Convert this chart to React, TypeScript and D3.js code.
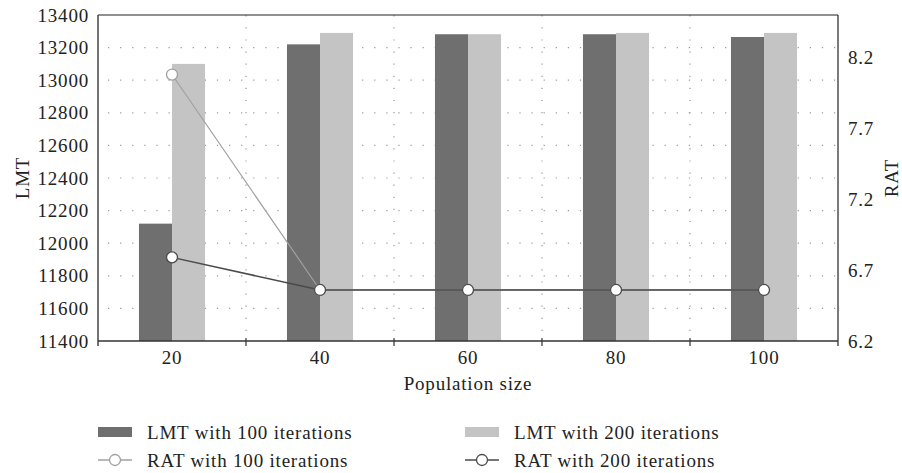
import React, { useEffect, useRef } from "react";
import * as d3 from "d3";

const categories = ["20", "40", "60", "80", "100"];
const lmt100 = [12120, 13220, 13282, 13282, 13265];
const lmt200 = [13100, 13290, 13282, 13290, 13290];
const rat100 = [8.08, 6.56, 6.56, 6.56, 6.56];
const rat200 = [6.79, 6.56, 6.56, 6.56, 6.56];
const leftTicks = [11400, 11600, 11800, 12000, 12200, 12400, 12600, 12800, 13000, 13200, 13400];
const rightTicks = [6.2, 6.7, 7.2, 7.7, 8.2];

const W = 902, H = 473;
const M = { left: 98, right: 838, top: 15, bottom: 341 };
const FONT = '"Liberation Serif"';
const DARK = "#6f6f6f", LIGHT = "#c4c4c4";

export default function App() {
  const ref = useRef<SVGSVGElement | null>(null);
  useEffect(() => {
    const svg = d3.select(ref.current);
    svg.selectAll("*").remove();
    const x0 = d3.scaleBand<string>().domain(categories).range([M.left, M.right]).padding(0);
    const x1 = d3.scaleBand<string>().domain(["a", "b"]).range([0, x0.bandwidth()]).paddingInner(0).paddingOuter(1.24);
    const yL = d3.scaleLinear().domain([11400, 13400]).range([M.bottom, M.top]);
    const yR = d3.scaleLinear().domain([6.2, 8.5]).range([M.bottom, M.top]);
    const cx = (c: string) => (x0(c) as number) + x0.bandwidth() / 2;

    const g = svg.append("g");
    g.selectAll("line.hg").data(leftTicks.slice(1, -1)).join("line")
      .attr("x1", M.left).attr("x2", M.right)
      .attr("y1", (d) => yL(d)).attr("y2", (d) => yL(d))
      .attr("stroke", "#999").attr("stroke-width", 1.2)
      .attr("stroke-dasharray", "1.2,10.9").attr("stroke-dashoffset", -10);
    g.selectAll("line.vg").data(categories.slice(1)).join("line")
      .attr("x1", (d) => x0(d) as number).attr("x2", (d) => x0(d) as number)
      .attr("y1", M.bottom).attr("y2", M.top)
      .attr("stroke", "#999").attr("stroke-width", 1.2)
      .attr("stroke-dasharray", "1.2,10.9").attr("stroke-dashoffset", -10);

    const series = [
      { key: "a", vals: lmt100, color: DARK },
      { key: "b", vals: lmt200, color: LIGHT },
    ];
    series.forEach((s) => {
      g.selectAll(null).data(categories).join("rect")
        .attr("x", (c) => (x0(c) as number) + (x1(s.key) as number))
        .attr("width", x1.bandwidth())
        .attr("y", (c, i) => yL(s.vals[i]))
        .attr("height", (c, i) => M.bottom - yL(s.vals[i]))
        .attr("fill", s.color);
    });

    const lines = [
      { vals: rat100, color: "#a0a0a0", w: 1.2 },
      { vals: rat200, color: "#4a4a4a", w: 1.5 },
    ];
    lines.forEach((l) => {
      const line = d3.line<number>().x((d, i) => cx(categories[i])).y((d) => yR(d));
      g.append("path").attr("d", line(l.vals) as string).attr("fill", "none")
        .attr("stroke", l.color).attr("stroke-width", l.w);
    });
    lines.forEach((l) => {
      g.selectAll(null).data(l.vals).join("circle")
        .attr("cx", (d, i) => cx(categories[i])).attr("cy", (d) => yR(d))
        .attr("r", 5.5).attr("fill", "#fff").attr("stroke", l.color).attr("stroke-width", 1.3);
    });

    g.append("line").attr("x1", M.left).attr("x2", M.right).attr("y1", M.top).attr("y2", M.top)
      .attr("stroke", "#222").attr("stroke-width", 1.2);
    g.append("line").attr("x1", M.right).attr("x2", M.right).attr("y1", M.top).attr("y2", M.bottom + 5)
      .attr("stroke", "#222").attr("stroke-width", 1.2);
    g.append("line").attr("x1", M.left).attr("x2", M.left).attr("y1", M.top).attr("y2", M.bottom + 5)
      .attr("stroke", "#444").attr("stroke-width", 1.5);
    g.append("line").attr("x1", M.left).attr("x2", M.right).attr("y1", M.bottom).attr("y2", M.bottom)
      .attr("stroke", "#333").attr("stroke-width", 1.6);
    g.selectAll(null).data(categories.slice(1)).join("line")
      .attr("x1", (d) => x0(d) as number).attr("x2", (d) => x0(d) as number)
      .attr("y1", M.bottom - 3).attr("y2", M.bottom + 5)
      .attr("stroke", "#333").attr("stroke-width", 1.2);

    const txt = (sel: any) => sel.style("font-family", FONT).style("font-size", "19px")
      .style("letter-spacing", "0.8px").attr("fill", "#222");

    txt(g.selectAll(null).data(leftTicks).join("text"))
      .attr("x", 89).attr("y", (d: number) => yL(d)).attr("dy", "0.35em")
      .attr("text-anchor", "end").text((d: number) => String(d));
    txt(g.selectAll(null).data(rightTicks).join("text"))
      .attr("x", 848).attr("y", (d: number) => yR(d)).attr("dy", "0.35em")
      .attr("text-anchor", "start").text((d: number) => d.toFixed(1));
    txt(g.selectAll(null).data(categories).join("text"))
      .attr("x", (d: string) => cx(d)).attr("y", 364)
      .attr("text-anchor", "middle").text((d: string) => d);
    txt(g.append("text")).attr("x", 468).attr("y", 390).attr("text-anchor", "middle").text("Population size");
    txt(g.append("text")).attr("transform", "translate(29,178) rotate(-90)").attr("text-anchor", "middle").text("LMT");
    txt(g.append("text")).attr("transform", "translate(898,178) rotate(-90)").attr("text-anchor", "middle").text("RAT");

    const leg = [
      { x: 98, y: 432, type: "bar", color: DARK, label: "LMT with 100 iterations" },
      { x: 465, y: 432, type: "bar", color: LIGHT, label: "LMT with 200 iterations" },
      { x: 98, y: 460, type: "line", color: "#a0a0a0", label: "RAT with 100 iterations" },
      { x: 465, y: 460, type: "line", color: "#4a4a4a", label: "RAT with 200 iterations" },
    ];
    leg.forEach((l) => {
      if (l.type === "bar") {
        g.append("rect").attr("x", l.x).attr("y", l.y - 5).attr("width", 34).attr("height", 10).attr("fill", l.color);
      } else {
        g.append("line").attr("x1", l.x).attr("x2", l.x + 34).attr("y1", l.y).attr("y2", l.y)
          .attr("stroke", l.color).attr("stroke-width", 1.3);
        g.append("circle").attr("cx", l.x + 17).attr("cy", l.y).attr("r", 5.5)
          .attr("fill", "#fff").attr("stroke", l.color).attr("stroke-width", 1.3);
      }
      txt(g.append("text")).attr("x", l.x + 49).attr("y", l.y).attr("dy", "0.35em").text(l.label);
    });
  }, []);
  return (
    <svg ref={ref} width={W} height={H} style={{ position: "absolute", left: 0, top: 0, background: "#fff" }} />
  );
}
